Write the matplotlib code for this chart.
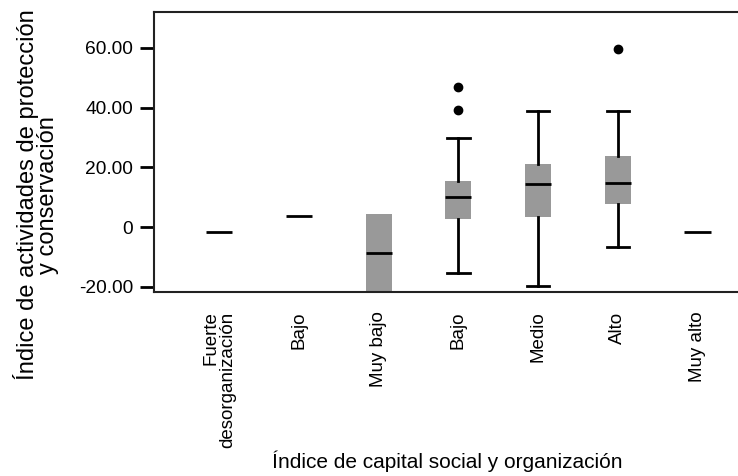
import numpy as np
import matplotlib
import matplotlib.pyplot as plt

matplotlib.rcParams['font.family'] = ['Liberation Sans', 'DejaVu Sans']

FONT_SIZE = 13.5

categories = ["Fuerte\ndesorganización", "Bajo", "Muy bajo", "Bajo", "Medio", "Alto", "Muy alto"]

# box statistics
medians = [-1.6, 3.9, -8.7, 10.2, 14.6, 14.8, -1.6]
q1 = [-1.6, 3.9, -25.0, 2.7, 3.5, 7.9, -1.6]
q3 = [-1.6, 3.9, 4.5, 15.4, 21.3, 23.8, -1.6]
whis_lo = [-1.6, 3.9, -25.0, -15.5, -19.8, -6.6, -1.6]
whis_hi = [-1.6, 3.9, 4.5, 30.0, 38.8, 39.0, -1.6]
outliers = [[], [], [], [46.8, 39.2], [], [59.5], []]

stats = []
for i in range(len(categories)):
	stats.append({"med": medians[i], "q1": q1[i], "q3": q3[i],
				  "whislo": whis_lo[i], "whishi": whis_hi[i], "fliers": outliers[i]})

fig = plt.figure(figsize=(7.38, 4.76), dpi=100)
ax = fig.add_axes([154 / 738, 1 - 292 / 476, 1 - 154 / 738, 280 / 476])

positions = np.arange(len(categories))
parts = ax.bxp(stats, positions=positions, widths=0.33, patch_artist=True,
			   capwidths=0.28,
			   boxprops=dict(facecolor='#999999', edgecolor='none'),
			   medianprops=dict(color='black', linewidth=2),
			   whiskerprops=dict(color='black', linewidth=2),
			   capprops=dict(color='black', linewidth=2),
			   flierprops=dict(marker='o', markerfacecolor='black', markeredgecolor='black', markersize=6))

# hide caps sitting on the box edge (no whisker)
for i in range(len(categories)):
	if whis_hi[i] == q3[i]:
		parts['caps'][2 * i + 1].set_visible(False)
	if whis_lo[i] == q1[i]:
		parts['caps'][2 * i].set_visible(False)

ax.set_xlim(-0.82, 6.51)
ax.set_ylim(-21.7, 72)
ax.set_yticks([-20, 0, 20, 40, 60])
ax.set_yticklabels(["-20.00", "0", "20.00", "40.00", "60.00"], fontsize=FONT_SIZE + 0.3)
ax.set_xticks(positions)
ax.set_xticklabels(categories, rotation=90, fontsize=FONT_SIZE, multialignment='right', va='top',
				   linespacing=0.95)
ax.tick_params(axis='x', length=0, pad=14)
ax.tick_params(axis='y', length=10, width=2, direction='out', pad=5)

ax.spines['right'].set_visible(False)
for s in ['top', 'bottom', 'left']:
	ax.spines[s].set_linewidth(1.5)
	ax.spines[s].set_color('#222222')

fig.text(36 / 738, 1 - 195 / 476, "Índice de actividades de protección\ny conservación",
		 rotation=90, ha='center', va='center', fontsize=17, multialignment='center',
		 linespacing=0.9)
fig.text(447 / 738, 1 - 461 / 476, "Índice de capital social y organización",
		 ha='center', va='center', fontsize=15)

plt.savefig("out.png", dpi=100)
